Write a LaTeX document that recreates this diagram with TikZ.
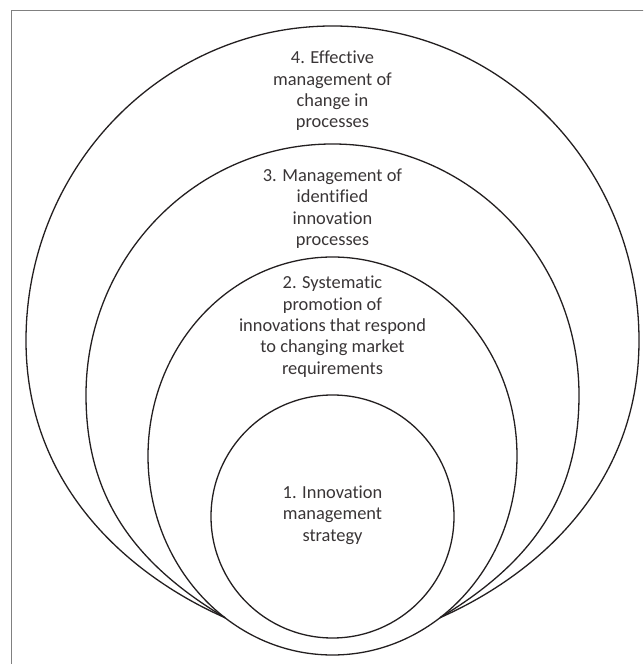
\documentclass[tikz,border=0pt]{standalone}
\usepackage{fontspec}
\setmainfont{Carlito}[Ligatures={NoCommon}]
\usetikzlibrary{shapes.geometric}
\definecolor{ink}{HTML}{231F20}
\begin{document}
\begin{tikzpicture}[x=1pt,y=1pt,
  ring/.style={draw=ink, line width=1.3pt},
  txt/.style={font=\fontsize{18.4}{21.3}\selectfont, text=ink!90, align=center, inner sep=0pt}]
\useasboundingbox (0,0) rectangle (643,664);
\clip (0,0) rectangle (643,664);
% frame
\draw[draw=gray, line width=1pt] (11,-20) rectangle (700,653);
% convergence points
\coordinate (L) at (225,46.3);
\coordinate (R) at (440,46.3);
% shape 4
\draw[ring] (L) .. controls (134.4,86.3) and (26,173.5) .. (26,323.5)
  arc[start angle=180, end angle=0, x radius=306.5, y radius=314.5]
  .. controls (639,173.5) and (530.6,86.3) .. (R);
% shape 3
\draw[ring] (L) .. controls (131.7,102.3) and (86,169) .. (86,269)
  arc[start angle=180, end angle=0, x radius=246.5, y radius=251]
  .. controls (579,169) and (533.3,102.3) .. (R);
% shape 2
\node[ring, ellipse, minimum width=369pt, minimum height=398pt, inner sep=0pt, outer sep=0pt] (e2) at (332.5,208) {};
% shape 1
\node[ring, circle, minimum size=243pt, inner sep=0pt, outer sep=0pt] (e1) at (332.5,147.5) {};
% texts
\node[txt] (t4) at (332.5,573) {4. Effective\\management of\\change in\\processes};
\node[txt] (t3) at (332.5,455.3) {3. Management of\\identified\\innovation\\processes};
\node[txt] (t2) at (332.5,337.3) {2. Systematic\\promotion of\\innovations that respond\\to changing market\\requirements};
\node[txt] (t1) at (332.5,149) {1. Innovation\\management\\strategy};
\end{tikzpicture}
\end{document}
